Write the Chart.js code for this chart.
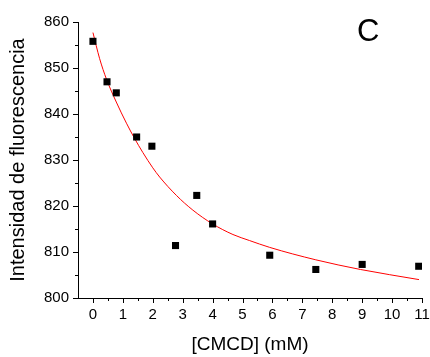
<!DOCTYPE html>
<html>
<head>
<meta charset="utf-8">
<script src="https://cdn.jsdelivr.net/npm/chart.js@4/dist/chart.umd.min.js"></script>
<style>
html,body{margin:0;padding:0;background:#fff;}
#wrap{width:430px;height:357px;position:relative;}
</style>
</head>
<body>
<div id="wrap"><canvas id="c" width="430" height="357"></canvas></div>
<script>
// Measured points
const concX = [0, 0.47, 0.78, 1.46, 1.97, 2.76, 3.47, 4.0, 5.91, 7.45, 9.0, 10.89];
const intensity = [855.8, 847.0, 844.6, 835.0, 833.0, 811.4, 822.3, 816.1, 809.3, 806.2, 807.3, 806.9];
// Fitted curve
const fitX = [0, 0.22, 0.45, 0.78, 1.12, 1.39, 1.67, 2.0, 2.23, 2.79, 3.34, 4.0, 4.68, 5.23, 5.91, 7.45, 8.94, 10.9];
const fitY = [857.7, 852.1, 847.6, 842.6, 838.0, 834.7, 831.6, 828.3, 826.3, 822.3, 819.1, 816.1, 813.8, 812.5, 811.0, 808.3, 806.2, 804.0];
// Tick labels
const xTicks = [0, 1, 2, 3, 4, 5, 6, 7, 8, 9, 10, 11];
const yTicks = [800, 810, 820, 830, 840, 850, 860];
const xTitle = '[CMCD] (mM)';
const yTitle = 'Intensidad de fluorescencia';
const panelLabel = 'C';

const FONT = 'Arial, "Liberation Sans", sans-serif';

const tickPlugin = {
  id: 'minorMajorTicks',
  afterDraw(chart) {
    const ctx = chart.ctx;
    const xs = chart.scales.x, ys = chart.scales.y;
    const area = chart.chartArea;
    ctx.save();
    ctx.strokeStyle = '#000';
    ctx.lineWidth = 1;
    ctx.beginPath();
    for (let v = yTicks[0]; v <= yTicks[yTicks.length - 1] + 1e-9; v += 5) {
      const y = Math.round(ys.getPixelForValue(v)) + 0.5;
      const len = (Math.round(v) % 10 === 0) ? 5 : 3;
      ctx.moveTo(area.left - len, y);
      ctx.lineTo(area.left, y);
    }
    for (let v = xTicks[0]; v <= xTicks[xTicks.length - 1] + 1e-9; v += 0.5) {
      const x = Math.round(xs.getPixelForValue(v)) + 0.5;
      const len = Number.isInteger(v) ? 5 : 3;
      ctx.moveTo(x, area.bottom);
      ctx.lineTo(x, area.bottom + len);
    }
    ctx.stroke();
    ctx.fillStyle = '#000';
    ctx.font = '31px ' + FONT;
    ctx.textAlign = 'center';
    ctx.textBaseline = 'middle';
    ctx.fillText(panelLabel, xs.getPixelForValue(9.2), ys.getPixelForValue(857.8));
    ctx.restore();
  }
};

new Chart(document.getElementById('c'), {
  type: 'scatter',
  data: {
    datasets: [
      {
        label: 'fit',
        data: fitX.map((x, i) => ({x: x, y: fitY[i]})),
        showLine: true,
        borderColor: '#ff0000',
        borderWidth: 1,
        pointRadius: 0,
        cubicInterpolationMode: 'monotone',
        order: 2
      },
      {
        label: 'data',
        data: concX.map((x, i) => ({x: x, y: intensity[i]})),
        showLine: false,
        pointStyle: 'rect',
        pointRadius: 5,
        pointBorderWidth: 0,
        backgroundColor: '#000',
        borderColor: '#000',
        order: 1
      }
    ]
  },
  options: {
    responsive: false,
    animation: false,
    devicePixelRatio: 1,
    layout: { padding: { top: 22, right: 8, left: 0, bottom: 0 } },
    plugins: { legend: { display: false }, tooltip: { enabled: false } },
    scales: {
      x: {
        type: 'linear',
        min: -0.5,
        max: 11,
        afterBuildTicks: s => { s.ticks = xTicks.map(v => ({value: v})); },
        afterFit: s => { s.height = 59; s.paddingRight = 0; s.paddingLeft = 0; },
        grid: { display: true, drawOnChartArea: false, drawTicks: false },
        border: { display: true, color: '#000', width: 1 },
        ticks: { color: '#000', font: { family: FONT, size: 15 }, padding: 8, maxRotation: 0, autoSkip: false },
        title: { display: true, text: xTitle, color: '#000', font: { family: FONT, size: 19 }, padding: { top: 0, bottom: 1 } }
      },
      y: {
        type: 'linear',
        min: 800,
        max: 860,
        afterBuildTicks: s => { s.ticks = yTicks.map(v => ({value: v})); },
        afterFit: s => { s.width = 78; s.paddingTop = 0; s.paddingBottom = 0; },
        grid: { display: true, drawOnChartArea: false, drawTicks: false },
        border: { display: true, color: '#000', width: 1 },
        ticks: { color: '#000', font: { family: FONT, size: 15 }, padding: 9 },
        title: { display: true, text: yTitle, color: '#000', font: { family: FONT, size: 20 }, padding: { top: 6, bottom: 0 } }
      }
    }
  },
  plugins: [tickPlugin]
});
</script>
</body>
</html>
